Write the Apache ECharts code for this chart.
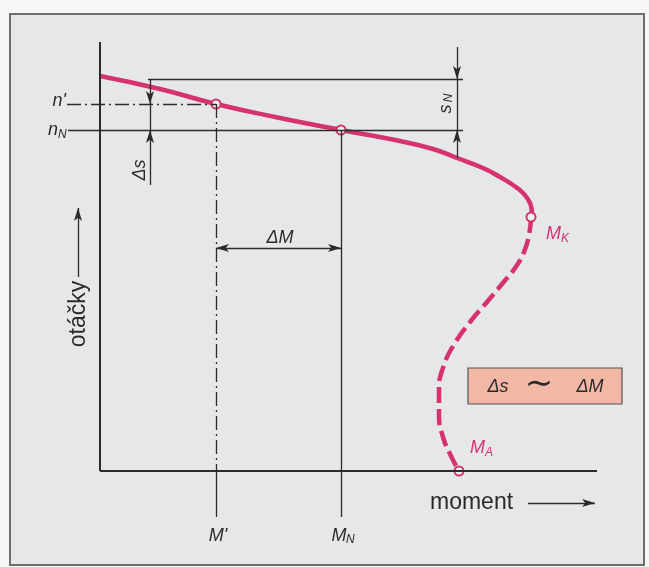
<!DOCTYPE html>
<html>
<head>
<meta charset="utf-8">
<script src="https://cdn.jsdelivr.net/npm/echarts@6/dist/echarts.min.js"></script>
<style>
  html, body { margin: 0; background: #f6f6f5; }
  #main { width: 649px; height: 567px; }
</style>
</head>
<body>
<div id="main"></div>
<script>
// values, x = moment, y = otáčky (drawing units)
const stableCurve = [[0, 395], [60, 382], [116, 367], [180, 353], [241, 341], [300, 330],
  [333, 322], [357, 313], [383, 303], [400, 294], [413, 286], [423, 278], [430, 268], [432, 258], [431, 254]];
const unstableCurve = [[431, 254], [429, 236], [424, 219], [415, 203], [402, 187], [387, 169],
  [370, 149], [355, 128], [344, 106], [339, 81], [339, 56], [343, 34], [351, 15], [359, 0]];
const nSync = 392;
const nPrime = 367, mPrime = 116;
const nNom = 341, mNom = 241;
const pointK = [431, 254];
const pointA = [359, 0];
const xEnd = 497, yEnd = 429;

const MAG = '#d6336e', INK = '#2b2b2b';
const AH = [6, 13];
const axisStyle = { color: INK, width: 2, type: 'solid' };
const thin = { color: INK, width: 1.3, type: 'solid' };
const dashDot = { color: INK, width: 1.3, type: [14, 4, 2, 4] };

function seg(a, b, style, s0, s1) {
  return [
    { coord: a, symbol: s0 || 'none', symbolSize: AH, lineStyle: style },
    { coord: b, symbol: s1 || 'none', symbolSize: AH, lineStyle: style }
  ];
}

const lines = [
  seg([0, 0], [0, yEnd], axisStyle),
  seg([0, 0], [xEnd, 0], axisStyle),
  seg([48, nSync], [363, nSync], thin),
  seg([-33, nPrime], [mPrime, nPrime], dashDot),
  seg([-32, nNom], [363, nNom], thin),
  seg([mPrime, nPrime], [mPrime, 0], dashDot),
  seg([mPrime, 0], [mPrime, -46], thin),
  seg([mNom, nNom], [mNom, -46], thin),
  seg([mPrime, 223], [mNom, 223], thin, 'arrow', 'arrow'),
  // s_N
  seg([357, 424], [357, nSync], thin, 'none', 'arrow'),
  seg([357, nSync], [357, nNom], thin),
  seg([357, 313], [357, nNom], thin, 'none', 'arrow'),
  // delta s
  seg([50, nSync], [50, nPrime], thin, 'none', 'arrow'),
  seg([50, nPrime], [50, nNom], thin),
  seg([50, 286], [50, nNom], thin, 'none', 'arrow'),
  // axis arrows
  seg([-22, 194], [-22, 263], thin, 'none', 'arrow'),
  seg([428, -32], [495, -32], thin, 'none', 'arrow')
];

const chart = echarts.init(document.getElementById('main'));

const hiddenAxis = {
  type: 'value',
  axisLine: { show: false }, axisTick: { show: false },
  axisLabel: { show: false }, splitLine: { show: false }
};

chart.setOption({
  animation: false,
  grid: { left: 40, top: 42, right: 52, bottom: 36 },
  xAxis: Object.assign({ min: -60, max: xEnd }, hiddenAxis),
  yAxis: Object.assign({ min: -60, max: yEnd }, hiddenAxis),
  series: [
    {
      type: 'line', data: [[0, 0]], symbol: 'none', clip: false, silent: true,
      lineStyle: { opacity: 0 },
      markLine: {
        silent: true, animation: false, symbol: ['none', 'none'],
        label: { show: false }, emphasis: { disabled: true },
        data: lines
      }
    },
    {
      name: 'stabilní', type: 'line', data: stableCurve, smooth: true, symbol: 'none',
      lineStyle: { color: MAG, width: 4.5 }, z: 3
    },
    {
      name: 'labilní', type: 'line', data: unstableCurve, smooth: true, symbol: 'none',
      lineStyle: { color: MAG, width: 4.5, type: [16, 6] }, z: 3
    },
    {
      type: 'scatter', data: [[mPrime, nPrime], [mNom, nNom], pointK, pointA],
      symbolSize: 9, z: 4,
      itemStyle: { color: '#f2f2f2', borderColor: MAG, borderWidth: 2, opacity: 1 }
    }
  ]
});

const p = (x, y) => chart.convertToPixel({ gridIndex: 0 }, [x, y]);

function txt(pt, text, o) {
  o = o || {};
  const align = o.align || 'center';
  return {
    type: 'text', x: pt[0], y: pt[1], rotation: o.rotation || 0, z: 10,
    style: {
      text: text, fill: o.fill || INK,
      font: o.font || 'italic 18px "Liberation Sans", Arial, sans-serif',
      align: align, textAlign: align,
      verticalAlign: 'middle', textVerticalAlign: 'middle'
    }
  };
}
const SUB = 'italic 12px "Liberation Sans", Arial, sans-serif';
const PLAIN = '23px "Liberation Sans", Arial, sans-serif';

const nP = p(-34, nPrime + 3), nN = p(-34, nNom);
const mP = p(mPrime + 2, -65), mN = p(mNom, -65);
const kP = p(446, 237), aP = p(370, 23);
const sP = p(346, 362), sNP = p(349, 373);

chart.setOption({
  graphic: [
    {
      type: 'rect', z: -5, shape: { x: 10, y: 14, width: 634, height: 551 },
      style: { fill: '#e6e7e8', stroke: '#6e6e6e', lineWidth: 2 }
    },
    txt(p(-21, 157), 'otáčky', { font: PLAIN, rotation: Math.PI / 2 }),
    txt(p(330, -32), 'moment', { font: PLAIN, align: 'left' }),
    txt(nP, "n'", { align: 'right' }),
    txt([nN[0] - 8, nN[1]], 'n', { align: 'right' }),
    txt([nN[0] - 8, nN[1] + 5], 'N', { align: 'left', font: SUB }),
    txt(mP, "M'"),
    txt([mN[0] - 2, mN[1]], 'M'),
    txt([mN[0] + 5, mN[1] + 4], 'N', { align: 'left', font: SUB }),
    txt(p(180, 233), 'ΔM'),
    txt(p(40, 301), 'Δs', { rotation: Math.PI / 2 }),
    txt(sP, 's', { rotation: Math.PI / 2 }),
    txt(sNP, 'N', { rotation: Math.PI / 2, font: SUB }),
    txt(kP, 'M', { align: 'left', fill: MAG }),
    txt([kP[0] + 15, kP[1] + 5], 'K', { align: 'left', fill: MAG, font: SUB }),
    txt(aP, 'M', { align: 'left', fill: MAG }),
    txt([aP[0] + 15, aP[1] + 5], 'A', { align: 'left', fill: MAG, font: SUB }),
    {
      type: 'rect', z: 9, shape: { x: 468, y: 368, width: 154, height: 36 },
      style: { fill: '#f3b7a5', stroke: '#555', lineWidth: 1.2 }
    },
    txt([498, 387], 'Δs'),
    txt([539, 385], '∼', { font: '34px "DejaVu Sans", sans-serif' }),
    txt([590, 387], 'ΔM')
  ]
});
</script>
</body>
</html>
